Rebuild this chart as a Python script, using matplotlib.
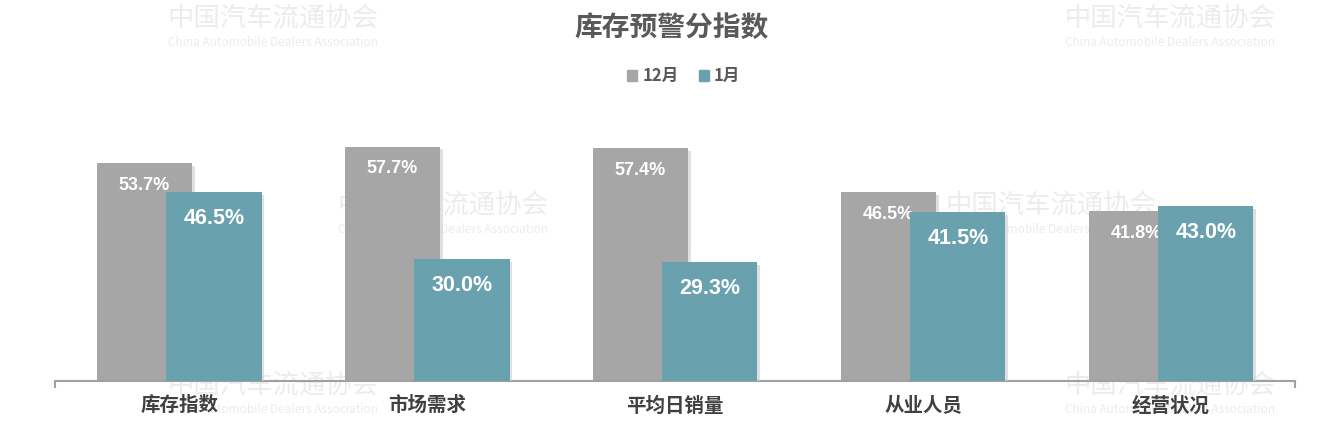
import matplotlib.pyplot as plt
import numpy as np
import matplotlib.patheffects as pe
from matplotlib.patches import Patch

plt.rcParams['font.family'] = ['Noto Sans CJK SC', 'DejaVu Sans']

categories = ['库存指数', '市场需求', '平均日销量', '从业人员', '经营状况']
dec_vals = [53.7, 57.7, 57.4, 46.5, 41.8]
jan_vals = [46.5, 30.0, 29.3, 41.5, 43.0]
series_names = ['12月', '1月']

gray = '#A6A6A6'
teal = '#69A2AE'
num_font = ['Liberation Sans', 'DejaVu Sans']

fig = plt.figure(figsize=(13.3, 4.48), dpi=100)
ax = fig.add_axes([0.0414, 0.1496, 0.9323, 0.605])
ax.set_zorder(1)
ax.patch.set_visible(False)

# watermarks (faint, behind the bars)
marks = [(0.205, 0.96), (0.88, 0.96), (0.333, 0.543), (0.79, 0.543), (0.205, 0.14), (0.88, 0.14)]
for mx, my in marks:
    fig.text(mx, my, '中国汽车流通协会', ha='center', va='center', fontsize=19,
             color='#ECECEC', zorder=0)
    fig.text(mx, my - 0.055, 'China Automobile Dealers Association', ha='center', va='center',
             fontsize=8.5, color='#ECECEC', zorder=0)

x = np.arange(len(categories))
w = 0.385
shadow = [pe.SimplePatchShadow(offset=(2, -2), shadow_rgbFace='#cccccc', alpha=0.6), pe.Normal()]
b1 = ax.bar(x - 0.14, dec_vals, w, color=gray, zorder=2, path_effects=shadow)
b2 = ax.bar(x + 0.14, jan_vals, w, color=teal, zorder=3, path_effects=shadow)

# value labels inside bars
for r, v in zip(b1, dec_vals):
    ax.annotate(f'{v:.1f}%', (r.get_x() + r.get_width() / 2, v), xytext=(0, -16),
                textcoords='offset points', ha='center', va='center', color='white',
                fontsize=13, fontweight='bold', family=num_font, zorder=2.5)
for r, v in zip(b2, jan_vals):
    ax.annotate(f'{v:.1f}%', (r.get_x() + r.get_width() / 2, v), xytext=(0, -19),
                textcoords='offset points', ha='center', va='center', color='white',
                fontsize=15.5, fontweight='bold', family=num_font, zorder=4)

ax.set_xlim(-0.5, len(categories) - 0.5)
ax.set_ylim(0, 66.75)
for s in ['top', 'right', 'left']:
    ax.spines[s].set_visible(False)
ax.spines['bottom'].set_color('#A0A0A0')
ax.spines['bottom'].set_linewidth(1.5)
ax.set_yticks([])
ax.set_xticks(x)
ax.set_xticklabels(categories, fontsize=14, fontweight='bold', color='#404040')
ax.tick_params(axis='x', which='major', length=0, pad=11)
ax.set_xticks([-0.5, len(categories) - 0.5], minor=True)
ax.tick_params(axis='x', which='minor', length=5, color='#A0A0A0', width=1.5)

fig.text(0.505, 0.938, '库存预警分指数', ha='center', va='center', fontsize=20,
         fontweight='bold', color='#595959')
handles = [Patch(color=gray), Patch(color=teal)]
fig.legend(handles=handles, labels=series_names, loc='center', bbox_to_anchor=(0.514, 0.83),
           ncol=2, frameon=False, handlelength=0.6, handleheight=0.6, handletextpad=0.3,
           columnspacing=1.2, prop={'size': 12, 'weight': 'bold'}, labelcolor='#595959')

fig.savefig('out.png', dpi=100)
